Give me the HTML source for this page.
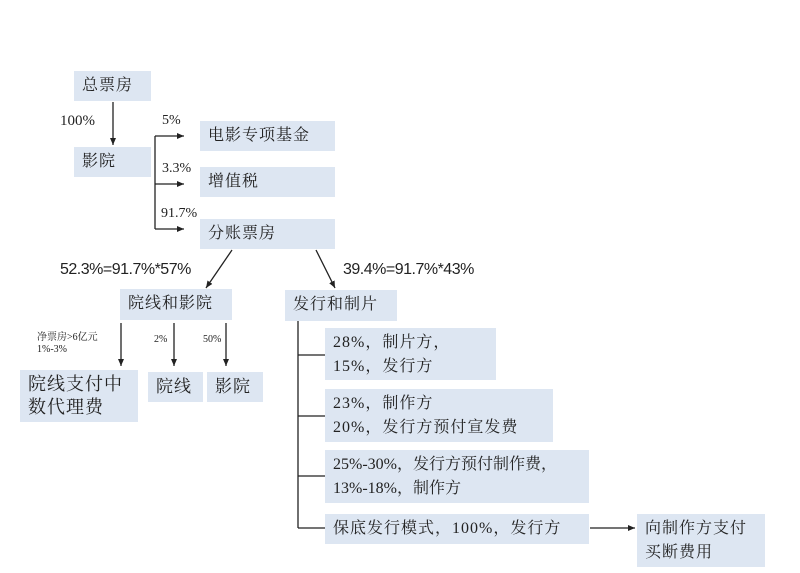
<!DOCTYPE html>
<html><head><meta charset="utf-8"><style>
body{margin:0;width:800px;height:573px;background:#fff;position:relative;overflow:hidden;font-family:"Liberation Serif","Noto Serif CJK SC",serif;color:#222}
.b{position:absolute;background:#dde6f2;font-size:16px;line-height:24px;padding:3px 0 0 8px;box-sizing:border-box;letter-spacing:1px;white-space:nowrap}
.t{position:absolute;font-size:14px;white-space:nowrap}
.s{position:absolute;font-family:"Liberation Sans","Noto Sans CJK SC",sans-serif;font-size:16px;white-space:nowrap;letter-spacing:-0.5px}
svg{position:absolute;left:0;top:0}
</style></head><body>
<svg width="800" height="573" stroke="#222" stroke-width="1.3" fill="none">
<defs><marker id="a" markerWidth="8" markerHeight="8" refX="7" refY="4" orient="auto" markerUnits="userSpaceOnUse"><path d="M0,1 L7,4 L0,7z" fill="#222" stroke="none"/></marker></defs>
<line x1="113" y1="102" x2="113" y2="145" marker-end="url(#a)"/>
<line x1="155" y1="136" x2="155" y2="229"/>
<line x1="155" y1="136" x2="184" y2="136" marker-end="url(#a)"/>
<line x1="155" y1="184" x2="184" y2="184" marker-end="url(#a)"/>
<line x1="155" y1="229" x2="184" y2="229" marker-end="url(#a)"/>
<line x1="232" y1="250" x2="206" y2="288" marker-end="url(#a)"/>
<line x1="316" y1="250" x2="335" y2="288" marker-end="url(#a)"/>
<line x1="121" y1="323" x2="121" y2="366" marker-end="url(#a)"/>
<line x1="174" y1="323" x2="174" y2="366" marker-end="url(#a)"/>
<line x1="226" y1="323" x2="226" y2="366" marker-end="url(#a)"/>
<line x1="298" y1="321" x2="298" y2="528"/>
<line x1="298" y1="355" x2="325" y2="355"/>
<line x1="298" y1="416" x2="325" y2="416"/>
<line x1="298" y1="476" x2="325" y2="476"/>
<line x1="298" y1="528" x2="325" y2="528"/>
<line x1="590" y1="528" x2="635" y2="528" marker-end="url(#a)"/>
</svg>
<div class="b" style="left:74px;top:71px;width:77px;height:30px">总票房</div>
<div class="b" style="left:74px;top:147px;width:77px;height:30px">影院</div>
<div class="b" style="left:200px;top:121px;width:135px;height:30px">电影专项基金</div>
<div class="b" style="left:200px;top:167px;width:135px;height:30px">增值税</div>
<div class="b" style="left:200px;top:219px;width:135px;height:30px">分账票房</div>
<div class="b" style="left:120px;top:289px;width:112px;height:31px">院线和影院</div>
<div class="b" style="left:285px;top:290px;width:112px;height:31px">发行和制片</div>
<div class="b" style="left:20px;top:370px;width:118px;height:52px;font-size:18px;line-height:23px">院线支付中<br>数代理费</div>
<div class="b" style="left:148px;top:372px;width:55px;height:30px;font-size:17px">院线</div>
<div class="b" style="left:207px;top:372px;width:56px;height:30px;font-size:17px">影院</div>
<div class="b" style="left:325px;top:328px;width:171px;height:52px">28%，制片方，<br>15%，发行方</div>
<div class="b" style="left:325px;top:389px;width:228px;height:53px">23%，制作方<br>20%，发行方预付宣发费</div>
<div class="b" style="left:325px;top:450px;width:264px;height:53px;letter-spacing:0">25%-30%，发行方预付制作费，<br>13%-18%，制作方</div>
<div class="b" style="left:325px;top:514px;width:264px;height:30px">保底发行模式，100%，发行方</div>
<div class="b" style="left:637px;top:514px;width:128px;height:53px">向制作方支付<br>买断费用</div>
<div class="t" style="left:60px;top:113px;font-size:15px">100%</div>
<div class="t" style="left:162px;top:113px">5%</div>
<div class="t" style="left:162px;top:161px">3.3%</div>
<div class="t" style="left:161px;top:206px">91.7%</div>
<div class="s" style="left:60px;top:261px">52.3%=91.7%*57%</div>
<div class="s" style="left:343px;top:261px">39.4%=91.7%*43%</div>
<div class="t" style="left:37px;top:332px;font-size:10px;line-height:12px">净票房&gt;6亿元<br>1%-3%</div>
<div class="t" style="left:154px;top:334px;font-size:10px">2%</div>
<div class="t" style="left:203px;top:334px;font-size:10px">50%</div>
</body></html>
